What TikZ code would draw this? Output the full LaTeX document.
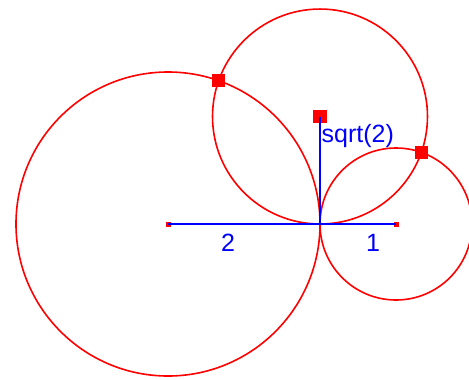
\documentclass[tikz,border=0pt]{standalone}
\usepackage{fontspec}
\setmainfont{Liberation Sans}
\usepackage{xcolor}
\usepackage{tikz}
\usetikzlibrary{positioning, calc}

\begin{document}
\begin{tikzpicture}[x=76pt, y=76pt,
    circ/.style={draw=red, line width=1.6pt},
    seg/.style={draw=blue, line width=2.2pt},
    ponto/.style={fill=red, inner sep=0pt, minimum size=13.5pt},
    pontinho/.style={fill=red, inner sep=0pt, minimum size=5pt},
    rotulo/.style={text=blue, inner sep=0pt, font=\fontsize{25}{30}\selectfont}]
            \useasboundingbox (-2.2105,-2.0395) rectangle (3.9605,2.9474);
            \coordinate (t) at (2,0);
            \draw[circ] (0,0) circle (2);
            \draw[circ] (3,0) circle (1);
            \draw[circ] (2,{sqrt(2)}) circle ({sqrt(2)});
            \node[pontinho] (a) at (0,0) {};
            \node[pontinho] (b) at (3,0) {};
            \node[ponto] (c) at (2,{sqrt(2)}) {};
            \node[ponto] (p) at (2/3,{4*sqrt(2)/3}) {};
            \node[ponto] (q) at (10/3,{2*sqrt(2)/3}) {};
            \draw[seg] (a.center) -- (b.center);
            \draw[seg] (t) -- (c.center);
            \node[rotulo, anchor=base] (dois) at (0.789,-0.368) {2};
            \node[rotulo, anchor=base] (um) at (2.697,-0.368) {1};
            \node[rotulo, anchor=base west] (raiz) at (2.02,1.066) {sqrt(2)};
        \end{tikzpicture}
\end{document}
